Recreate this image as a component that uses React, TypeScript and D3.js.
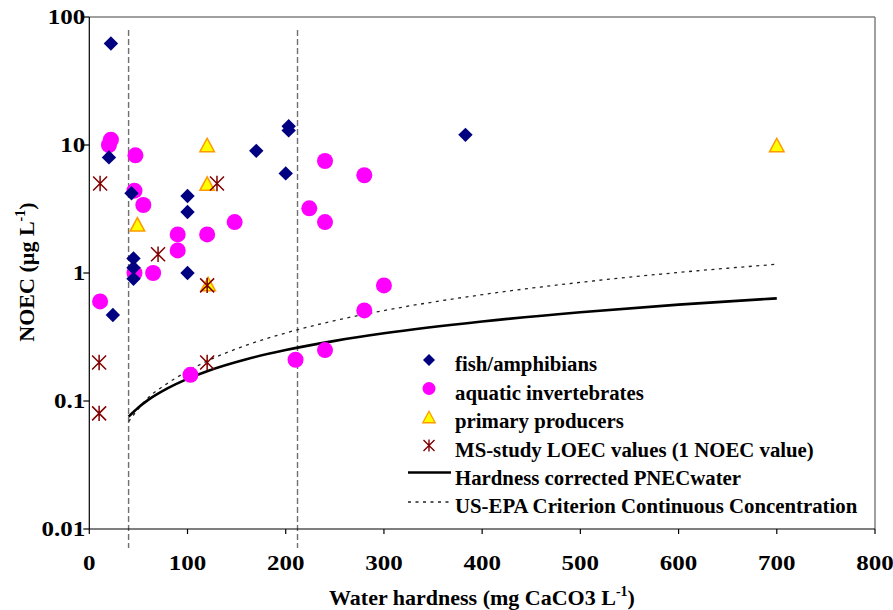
import React from "react";
import * as d3 from "d3";

// ---- data ----
const fishX = [22, 20, 43, 100, 100, 45, 45, 45, 100, 24, 203, 203, 170, 200, 383];
const fishY = [62, 8, 4.2, 4, 3, 1.3, 1.1, 0.9, 1, 0.47, 14, 13, 9, 6, 12];

const invertX = [22, 20, 47, 46, 55, 90, 120, 148, 90, 46, 65, 11, 103, 240, 280, 224, 240, 300, 280, 240, 210];
const invertY = [11, 10, 8.3, 4.4, 3.4, 2, 2, 2.5, 1.5, 1, 1, 0.6, 0.16, 7.5, 5.8, 3.2, 2.5, 0.8, 0.51, 0.25, 0.21];

const primX = [120, 120, 49, 121, 700];
const primY = [10, 5, 2.4, 0.82, 10];

const msX = [11, 130, 70, 120, 10, 120, 10];
const msY = [5, 5, 1.4, 0.8, 0.2, 0.2, 0.08];

const pnecX = [40, 50, 60, 80, 100, 120, 160, 200, 250, 300, 400, 500, 600, 700];
const pnecY = [0.0754, 0.089, 0.102, 0.126, 0.149, 0.171, 0.212, 0.25, 0.295, 0.338, 0.418, 0.494, 0.566, 0.634];

const epaX = [40, 50, 60, 80, 100, 120, 160, 200, 250, 300, 400, 500, 600, 700];
const epaY = [0.069, 0.087, 0.106, 0.138, 0.171, 0.205, 0.273, 0.34, 0.425, 0.509, 0.677, 0.845, 1.01, 1.17];

const hardnessMarks = [40, 212];

const xTicks = [0, 100, 200, 300, 400, 500, 600, 700, 800];
const yTicks = [0.01, 0.1, 1, 10, 100];
const yTickLabels = ["0.01", "0.1", "1", "10", "100"];

const legendLabels = [
  "fish/amphibians",
  "aquatic invertebrates",
  "primary producers",
  "MS-study LOEC values (1 NOEC value)",
  "Hardness corrected PNECwater",
  "US-EPA Criterion Continuous Concentration",
];

const FONT = "'Liberation Serif', 'Times New Roman', serif";

const diamond = (s: number) => `M0,${-s}L${s},0L0,${s}L${-s},0Z`;
const triangle = (w: number, h: number) => `M0,${-h / 2}L${w / 2},${h / 2}L${-w / 2},${h / 2}Z`;
const star = (s: number) =>
  `M${-s},${-s}L${s},${s}M${-s},${s}L${s},${-s}M0,${-s * 1.1}L0,${s * 1.1}`;

export default function App() {
  const W = 893;
  const H = 610;
  const x = d3.scaleLinear().domain([0, 800]).range([89.3, 875]);
  const y = d3.scaleLog().domain([0.01, 100]).range([529, 17]);
  const left = x(0);
  const right = x(800);
  const top = y(100);
  const bottom = y(0.01);

  const mkLine = d3
    .line<[number, number]>()
    .x((d) => x(d[0]))
    .y((d) => y(d[1]))
    .curve(d3.curveMonotoneX);
  const pnecPath = mkLine(pnecX.map((v, i) => [v, pnecY[i]] as [number, number]));
  const epaPath = mkLine(epaX.map((v, i) => [v, epaY[i]] as [number, number]));

  const legX = 429;
  const legTextX = 455;
  const legBase = [371, 399.5, 428, 456.5, 485, 513];

  return (
    <svg
      width={W}
      height={H}
      style={{ position: "absolute", left: 0, top: 0, background: "#fff" }}
      fontFamily={FONT}
      fontWeight="bold"
    >
      <rect x={0} y={0} width={W} height={H} fill="#fff" />
      {/* plot frame */}
      <line x1={left} x2={right} y1={top} y2={top} stroke="#808080" strokeWidth={1.5} />
      <line x1={right} x2={right} y1={top} y2={bottom} stroke="#808080" strokeWidth={1.5} />

      {/* hardness range markers */}
      {hardnessMarks.map((h) => (
        <line
          key={h}
          x1={x(h)}
          x2={x(h)}
          y1={30}
          y2={548}
          stroke="#707070"
          strokeWidth={1.4}
          strokeDasharray="6,3"
        />
      ))}

      {/* lines */}
      <path d={epaPath || ""} fill="none" stroke="#222" strokeWidth={1.3} strokeDasharray="3,4.5" />
      <path d={pnecPath || ""} fill="none" stroke="#000" strokeWidth={2.6} />

      {/* axes */}
      <line x1={left} x2={left} y1={top} y2={bottom} stroke="#000" strokeWidth={1.2} />
      <line x1={left} x2={right} y1={bottom} y2={bottom} stroke="#000" strokeWidth={1.2} />
      {yTicks.map((t, i) => (
        <g key={t}>
          <line x1={left - 6} x2={left} y1={y(t)} y2={y(t)} stroke="#000" strokeWidth={1.2} />
          <text
            transform={`translate(${left - 4},${y(t) + 7}) scale(1.25,1)`}
            textAnchor="end"
            fontSize={20}
          >
            {yTickLabels[i]}
          </text>
        </g>
      ))}
      {xTicks.map((t) => (
        <g key={t}>
          <line x1={x(t)} x2={x(t)} y1={bottom} y2={bottom + 5} stroke="#000" strokeWidth={1.2} />
          <text
            transform={`translate(${x(t)},570) scale(1.25,1)`}
            textAnchor="middle"
            fontSize={20}
          >
            {t}
          </text>
        </g>
      ))}

      {/* axis titles */}
      <text x={482} y={605} textAnchor="middle" fontSize={22}>
        Water hardness (mg CaCO3 L
        <tspan dy={-9} fontSize={14}>-1</tspan>
        <tspan dy={9}>)</tspan>
      </text>
      <text transform={`translate(34,272) rotate(-90)`} textAnchor="middle" fontSize={22}>
        NOEC (µg L
        <tspan dy={-9} fontSize={14}>-1</tspan>
        <tspan dy={9}>)</tspan>
      </text>

      {/* markers */}
      {invertX.map((v, i) => (
        <circle key={"i" + i} cx={x(v)} cy={y(invertY[i])} r={8} fill="#ff00ff" />
      ))}
      {fishX.map((v, i) => (
        <path key={"f" + i} d={diamond(7.2)} transform={`translate(${x(v)},${y(fishY[i])})`} fill="#000080" />
      ))}
      {primX.map((v, i) => (
        <path
          key={"p" + i}
          d={triangle(14.5, 13.5)}
          transform={`translate(${x(v)},${y(primY[i])})`}
          fill="#ffff00"
          stroke="#ff9900"
          strokeWidth={1.5}
        />
      ))}
      {msX.map((v, i) => (
        <path
          key={"m" + i}
          d={star(7)}
          transform={`translate(${x(v)},${y(msY[i])})`}
          fill="none"
          stroke="#800000"
          strokeWidth={1.5}
        />
      ))}

      {/* legend */}
      <path d={diamond(6)} transform={`translate(${legX},${legBase[0] - 11})`} fill="#000080" />
      <circle cx={legX} cy={legBase[1] - 11} r={6.5} fill="#ff00ff" />
      <path
        d={triangle(12.5, 11.5)}
        transform={`translate(${legX},${legBase[2] - 11})`}
        fill="#ffff00"
        stroke="#ff9900"
        strokeWidth={1.3}
      />
      <path d={star(5.5)} transform={`translate(${legX},${legBase[3] - 11})`} fill="none" stroke="#800000" strokeWidth={1.4} />
      <line x1={408} x2={451} y1={legBase[4] - 12.5} y2={legBase[4] - 12.5} stroke="#000" strokeWidth={2.6} />
      <line
        x1={408}
        x2={451}
        y1={legBase[5] - 11}
        y2={legBase[5] - 11}
        stroke="#222"
        strokeWidth={1.3}
        strokeDasharray="3,4.5"
      />
      {legendLabels.map((l, i) => (
        <text key={l} x={legTextX} y={legBase[i]} fontSize={20.8}>
          {l}
        </text>
      ))}
    </svg>
  );
}
